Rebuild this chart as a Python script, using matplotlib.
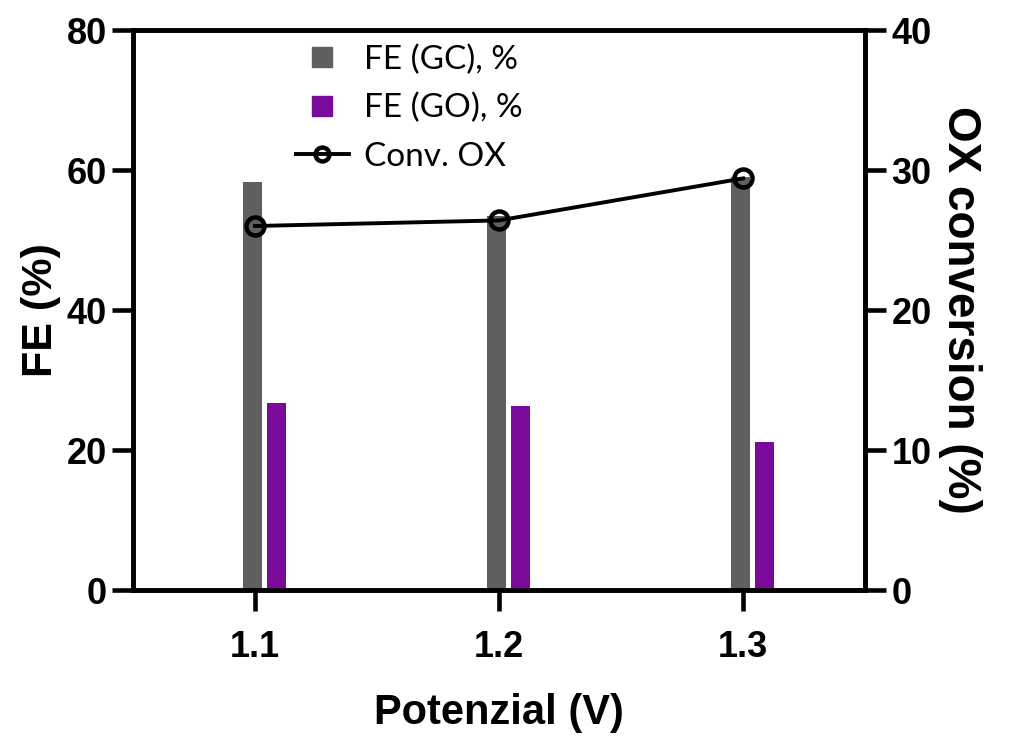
import matplotlib
matplotlib.use("Agg")
import matplotlib.pyplot as plt
from matplotlib.lines import Line2D
import numpy as np

# data
potentials = ["1.1", "1.2", "1.3"]
fe_gc = [58.3, 53.5, 59.0]
fe_go = [26.7, 26.3, 21.1]
conv_ox = [26.0, 26.4, 29.4]

gray = "#5f5f5f"
purple = "#7a0a99"

plt.rcParams["font.family"] = ["Liberation Sans", "DejaVu Sans"]

fig = plt.figure(figsize=(10.11, 7.5), dpi=100)
ax = fig.add_axes([0.1316, 0.2133, 0.7240, 0.7467])
ax2 = ax.twinx()

x = np.arange(len(potentials))
bw = 0.078
ax.bar(x - 0.01, fe_gc, width=bw, color=gray, zorder=2)
ax.bar(x + 0.088, fe_go, width=bw * 0.95, color=purple, zorder=2)

ax2.plot(x, conv_ox, color="black", lw=2.8, marker="o", ms=13,
         mfc="none", mec="black", mew=3.2, zorder=3)

ax.set_xlim(-0.5, len(potentials) - 0.5)
ax.set_ylim(0, 80)
ax2.set_ylim(0, 40)
ax.set_xticks(x)
ax.set_xticklabels(potentials)
ax.set_yticks([0, 20, 40, 60, 80])
ax2.set_yticks([0, 10, 20, 30, 40])

for a in (ax, ax2):
    for s in a.spines.values():
        s.set_linewidth(3.3)
    a.tick_params(width=3.3, length=15, labelsize=26, direction="out")
    for lab in a.get_xticklabels() + a.get_yticklabels():
        lab.set_fontweight("bold")
ax.tick_params(axis="x", pad=14)
ax.tick_params(axis="y", pad=4)
ax2.tick_params(axis="y", pad=4)

ax.set_xlabel("Potenzial (V)", fontsize=30, fontweight="bold", labelpad=20)
ax.set_ylabel("FE (%)", fontsize=31, fontweight="bold", labelpad=4)
ax2.set_ylabel("OX conversion (%)", fontsize=33, fontweight="bold",
               rotation=270, labelpad=36)

handles = [
    Line2D([], [], ls="none", marker="s", ms=15, color=gray),
    Line2D([], [], ls="none", marker="s", ms=15, color=purple),
    Line2D([], [], color="black", lw=2.8, marker="o", ms=10,
           mfc="none", mec="black", mew=3.2),
]
labels = ["FE (GC), %", "FE (GO), %", "Conv. OX"]
ax.legend(handles, labels, loc="upper left", bbox_to_anchor=(0.195, 1.01),
          frameon=False, handlelength=1.6, handletextpad=0.45,
          labelspacing=0.55, borderaxespad=0.2,
          prop={"family": "Lato", "size": 24})

fig.savefig("out.png", dpi=100)
